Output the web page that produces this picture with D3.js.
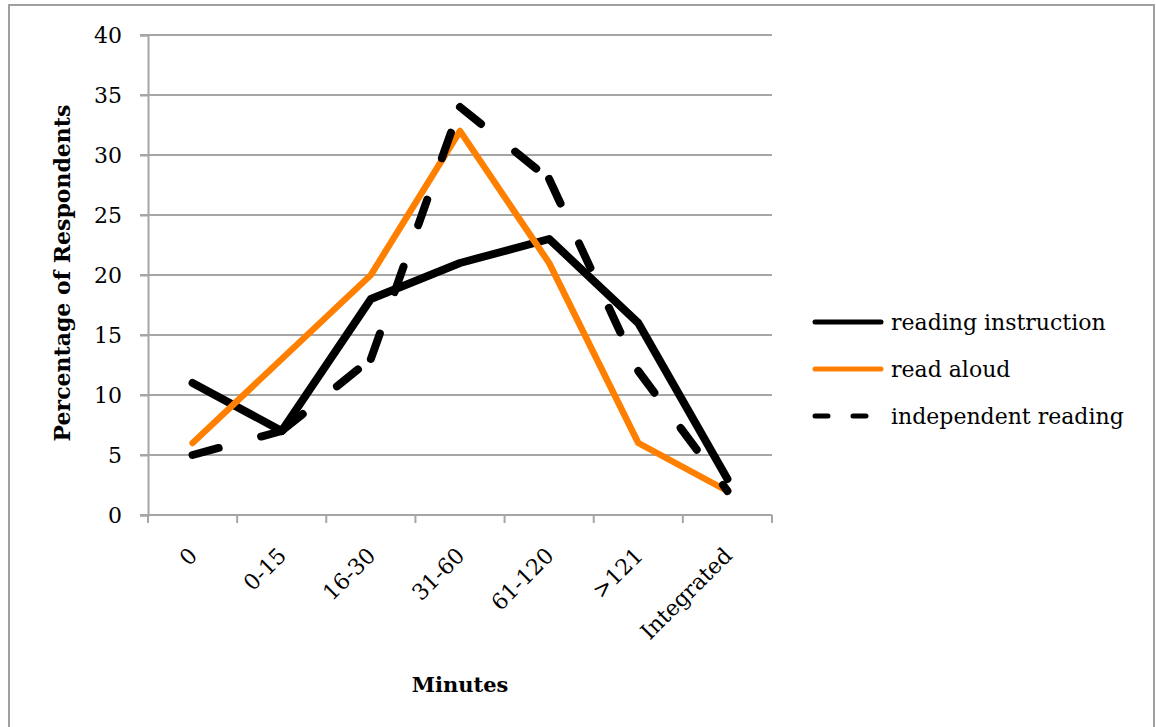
<!DOCTYPE html>
<html><head><meta charset="utf-8">
<script src="https://cdn.jsdelivr.net/npm/d3@7"></script>
<style>
html,body{margin:0;padding:0;background:#fff;}
svg{display:block;}
text{font-family:"DejaVu Serif","Liberation Serif",serif;fill:#000;}
</style></head>
<body>
<script>
const categories = ["0","0-15","16-30","31-60","61-120",">121","Integrated"];
const readingInstruction = [11,7,18,21,23,16,3];
const readAloud = [6,13,20,32,21,6,2];
const independentReading = [5,7,13,34,28,12,2];
const yTicks = [0,5,10,15,20,25,30,35,40];
const seriesNames = ["reading instruction","read aloud","independent reading"];

(function(){
const W = 1156, H = 727;
const svg = d3.select("body").append("svg").attr("width", W).attr("height", H);

// outer frame
svg.append("rect").attr("x", 9).attr("y", 5).attr("width", 1145).attr("height", 730)
  .attr("fill", "none").attr("stroke", "#a0a0a0").attr("stroke-width", 2);

const pL = 148, pR = 772, pT = 35, pB = 515;
const x = d3.scaleBand().domain(categories).range([pL, pR]).padding(0);
const y = d3.scaleLinear().domain([0, 40]).range([pB, pT]);
const cx = c => x(c) + x.bandwidth() / 2;

// gridlines
svg.append("g").selectAll("line").data(yTicks.filter(t => t > 0)).join("line")
  .attr("x1", pL - 8).attr("x2", pR)
  .attr("y1", d => y(d)).attr("y2", d => y(d))
  .attr("stroke", "#a6a6a6").attr("stroke-width", 2);

// y axis
const yAxis = svg.append("g").attr("transform", `translate(${pL},0)`)
  .call(d3.axisLeft(y).tickValues(yTicks).tickSize(8).tickPadding(18).tickFormat(d3.format("d")));
yAxis.select(".domain").attr("stroke", "#a6a6a6").attr("stroke-width", 2);
yAxis.selectAll(".tick line").attr("stroke", "#a6a6a6").attr("stroke-width", 2);
yAxis.selectAll(".tick text").attr("font-size", 22).attr("font-family", "DejaVu Serif").attr("fill", "#000");

// x axis
const xAxisG = svg.append("g");
xAxisG.append("line").attr("x1", pL - 8).attr("x2", pR).attr("y1", pB).attr("y2", pB)
  .attr("stroke", "#a6a6a6").attr("stroke-width", 2);
const boundaries = categories.map(c => x(c)).concat([pR]);
xAxisG.selectAll("line.tk").data(boundaries).join("line").attr("class", "tk")
  .attr("x1", d => d).attr("x2", d => d).attr("y1", pB).attr("y2", pB + 8)
  .attr("stroke", "#a6a6a6").attr("stroke-width", 2);
xAxisG.selectAll("text").data(categories).join("text")
  .attr("transform", d => `translate(${cx(d) + 6},${557}) rotate(-45)`)
  .attr("text-anchor", "end").attr("font-size", 22).text(d => d);

// axis titles
svg.append("text").attr("transform", `translate(70,${273}) rotate(-90)`)
  .attr("text-anchor", "middle").attr("font-size", 22).attr("font-weight", "bold")
  .text("Percentage of Respondents");
svg.append("text").attr("x", 460).attr("y", 692).attr("text-anchor", "middle")
  .attr("font-size", 21).attr("font-weight", "bold").text("Minutes");

// lines
const line = d3.line().x((d, i) => cx(categories[i])).y(d => y(d));
svg.append("path").datum(readingInstruction).attr("d", line)
  .attr("fill", "none").attr("stroke", "#000").attr("stroke-width", 8)
  .attr("stroke-linejoin", "round").attr("stroke-linecap", "round");
svg.append("path").datum(readAloud).attr("d", line)
  .attr("fill", "none").attr("stroke", "#ff8000").attr("stroke-width", 6.5)
  .attr("stroke-linejoin", "round").attr("stroke-linecap", "round");
// dashed: pattern restarts at every segment
const segs = d3.pairs(independentReading.map((v, i) => [cx(categories[i]), y(v)]));
svg.append("g").selectAll("line").data(segs).join("line")
  .attr("x1", d => d[0][0]).attr("y1", d => d[0][1])
  .attr("x2", d => d[1][0]).attr("y2", d => d[1][1])
  .attr("stroke", "#000").attr("stroke-width", 8).attr("stroke-linecap", "round")
  .attr("stroke-dasharray", "27,44");

// legend
const legY = [322, 369, 416];
const legStyles = [
  {stroke: "#000", dash: null},
  {stroke: "#ff8000", dash: null},
  {stroke: "#000", dash: "13,25"}
];
const leg = svg.append("g");
seriesNames.forEach((n, i) => {
  leg.append("line").attr("x1", 815).attr("x2", 881).attr("y1", legY[i]).attr("y2", legY[i])
    .attr("stroke", legStyles[i].stroke).attr("stroke-width", 5).attr("stroke-linecap", "round")
    .attr("stroke-dasharray", legStyles[i].dash);
  leg.append("text").attr("x", 891).attr("y", legY[i]).attr("dy", "0.35em")
    .attr("font-size", 22).text(n);
});
})();
</script>
</body></html>
